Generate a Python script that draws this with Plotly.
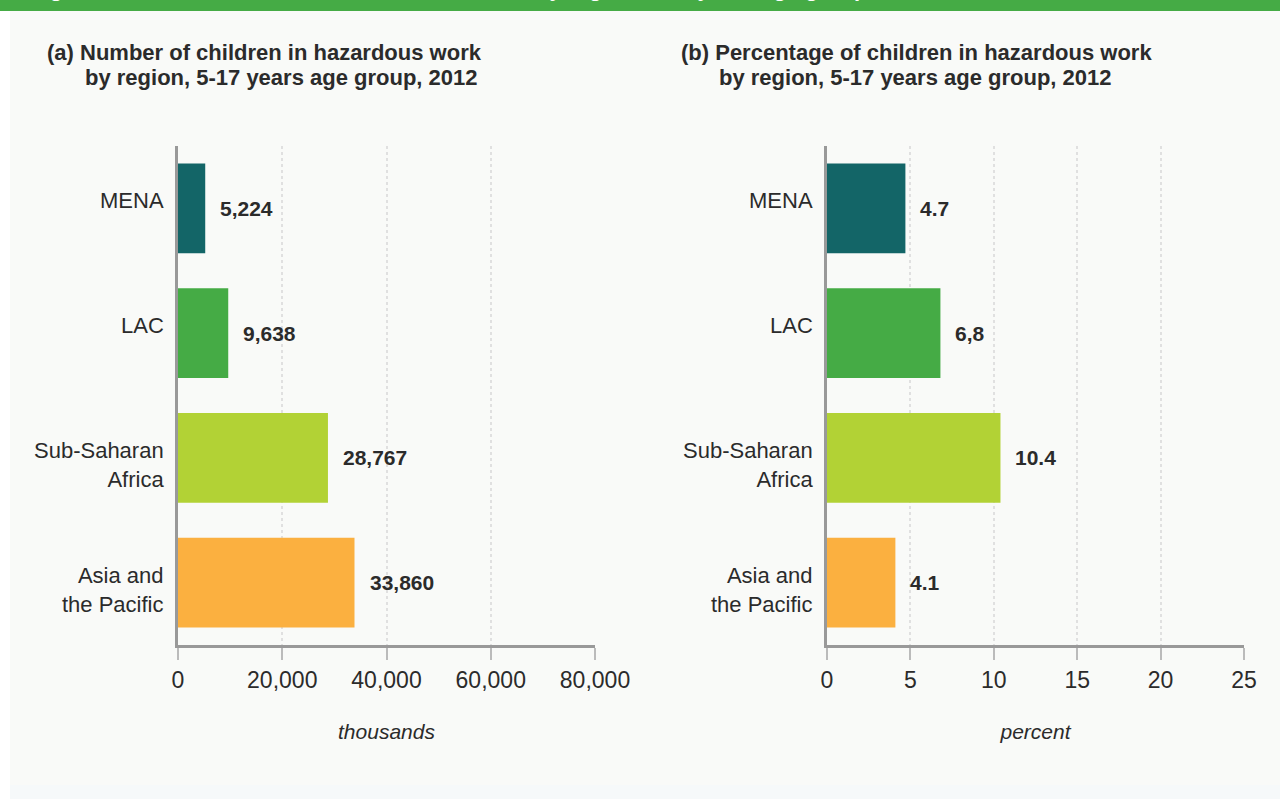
import plotly.graph_objects as go

regions = ["MENA", "LAC", "Sub-Saharan<br>Africa", "Asia and<br>the Pacific"]
children_thousands = [5224, 9638, 28767, 33860]
percent = [4.7, 6.8, 10.4, 4.1]
percent_labels = ["4.7", "6,8", "10.4", "4.1"]
colors = ["#136567", "#45ab45", "#b2d235", "#fbb040"]
x1_ticks = [0, 20000, 40000, 60000, 80000]
x1_ticktext = ["0", "20,000", "40,000", "60,000", "80,000"]
x2_ticks = [0, 5, 10, 15, 20, 25]

W, H = 1280, 799
fig = go.Figure()

fig.add_trace(go.Bar(y=regions, x=children_thousands, orientation="h",
                     marker=dict(color=colors, line=dict(width=0)), width=0.72,
                     xaxis="x", yaxis="y", hoverinfo="skip"))
fig.add_trace(go.Bar(y=regions, x=percent, orientation="h",
                     marker=dict(color=colors, line=dict(width=0)), width=0.72,
                     xaxis="x2", yaxis="y2", hoverinfo="skip"))

annotations = []
label_font = dict(family="Liberation Sans, Arial, sans-serif", size=21, color="#2b2b2b")
cat_font = dict(family="Liberation Sans, Arial, sans-serif", size=22, color="#2b2b2b")
for xr, yr in (("x", "y"), ("x2", "y2")):
    for r in regions:
        two_line = "<br>" in r
        annotations.append(dict(x=0, y=r, xref=xr, yref=yr, text=r, showarrow=False,
                                xanchor="right", align="right", xshift=-12,
                                yshift=-7 if two_line else 8, font=cat_font))
for r, v in zip(regions, children_thousands):
    annotations.append(dict(x=v, y=r, xref="x", yref="y", text="<b>{:,}</b>".format(v),
                            showarrow=False, xanchor="left", xshift=13, font=label_font))
for r, v, t in zip(regions, percent, percent_labels):
    annotations.append(dict(x=v, y=r, xref="x2", yref="y2", text="<b>" + t + "</b>",
                            showarrow=False, xanchor="left", xshift=13, font=label_font))

title_font = dict(family="Liberation Sans, Arial, sans-serif", size=22, color="#2b2b2b")
def px_x(p): return p / W
def px_y(p): return 1 - p / H
annotations += [
    dict(x=px_x(45), y=px_y(53), xref="paper", yref="paper", xanchor="left", yanchor="middle",
         text="<b>(a) Number of children in hazardous work</b>", showarrow=False, font=title_font),
    dict(x=px_x(83), y=px_y(77), xref="paper", yref="paper", xanchor="left", yanchor="middle",
         text="<b>by region, 5-17 years age group, 2012</b>", showarrow=False, font=title_font),
    dict(x=px_x(679), y=px_y(53), xref="paper", yref="paper", xanchor="left", yanchor="middle",
         text="<b>(b) Percentage of children in hazardous work</b>", showarrow=False, font=title_font),
    dict(x=px_x(717), y=px_y(77), xref="paper", yref="paper", xanchor="left", yanchor="middle",
         text="<b>by region, 5-17 years age group, 2012</b>", showarrow=False, font=title_font),
    dict(x=px_x(28), y=px_y(3), xref="paper", yref="paper", xanchor="left", yanchor="bottom",
         text="<b>Figure 3: Number of children in hazardous work by region, 5-17 years age group, 2012</b>",
         showarrow=False, font=dict(family="Liberation Sans, Arial, sans-serif", size=22, color="white")),
]

shapes = [
    dict(type="rect", xref="paper", yref="paper", x0=px_x(10), x1=1, y0=0, y1=px_y(11),
         fillcolor="#f9faf8", line=dict(width=0), layer="below"),
    dict(type="rect", xref="paper", yref="paper", x0=px_x(10), x1=1, y0=0, y1=px_y(785),
         fillcolor="#f6f9fa", line=dict(width=0), layer="below"),
    dict(type="rect", xref="paper", yref="paper", x0=0, x1=1, y0=px_y(11), y1=1,
         fillcolor="#45ab45", line=dict(width=0), layer="below"),
]

tick_font = dict(family="Liberation Sans, Arial, sans-serif", size=23, color="#2b2b2b")
axis_title_font = dict(family="Liberation Sans, Arial, sans-serif", size=21, color="#2b2b2b")

common_x = dict(showline=True, linecolor="#999999", linewidth=3, showgrid=True, gridcolor="#e0e0e0",
                griddash="3px,3px", gridwidth=1.5, zeroline=False, ticks="outside", ticklen=12,
                tickcolor="#bbbbbb", tickwidth=2, tickfont=tick_font, fixedrange=True,
                automargin=False)
common_y = dict(showline=True, linecolor="#999999", linewidth=3, showgrid=False, zeroline=False,
                ticks="", showticklabels=False, range=[3.5, -0.5], fixedrange=True,
                automargin=False)

fig.update_layout(
    template="none",
    width=W, height=H, margin=dict(l=0, r=0, t=0, b=0, pad=0, autoexpand=False),
    paper_bgcolor="white", plot_bgcolor="rgba(0,0,0,0)",
    showlegend=False, bargap=0.28,
    xaxis=dict(common_x, domain=[px_x(178), px_x(595)], range=[0, 80000], tickvals=x1_ticks,
               ticktext=x1_ticktext, anchor="y",
               title=dict(text="<i>thousands</i>", font=axis_title_font, standoff=33)),
    yaxis=dict(common_y, domain=[px_y(645), px_y(146)], anchor="x"),
    xaxis2=dict(common_x, domain=[px_x(827), px_x(1244)], range=[0, 25], tickvals=x2_ticks, anchor="y2",
                title=dict(text="<i>percent</i>", font=axis_title_font, standoff=33)),
    yaxis2=dict(common_y, domain=[px_y(645), px_y(146)], anchor="x2"),
    annotations=annotations, shapes=shapes,
)

fig.write_html("out.html", config={"displayModeBar": False},
               post_script="document.body.style.margin='0';document.body.style.overflow='hidden';")
